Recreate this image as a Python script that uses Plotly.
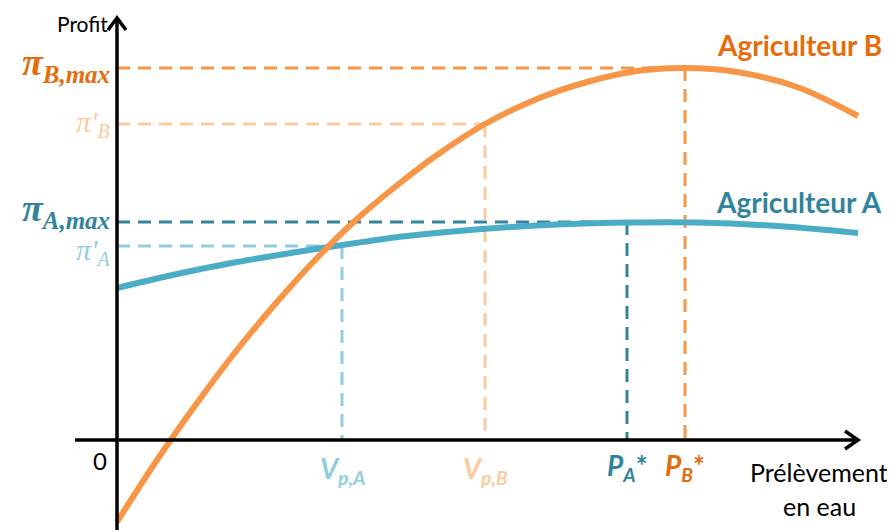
import plotly.graph_objects as go

# Data (origin at the axis crossing)
x_orange = [0, 40, 80, 120, 160, 200, 240, 283, 320, 368, 420, 470, 520, 568, 620, 680, 741]
y_orange = [-82, -20, 37, 90, 138, 182, 221, 257, 285, 316, 341, 358, 369, 372, 368, 353, 324]
x_blue = [0, 60, 120, 180, 225, 290, 365, 440, 510, 580, 660, 741]
y_blue = [152, 166, 178, 188, 195, 204, 211, 215.5, 217.5, 217.5, 214, 207]

vp_a = (225, 194)
vp_b = (368, 316)
p_a = (510, 218)
p_b = (568, 372)

ORANGE = "#F79646"
ORANGE_D = "#E46C0A"
ORANGE_L = "#FBCBA0"
BLUE = "#4BACC6"
BLUE_D = "#31849B"
BLUE_L = "#92CDDC"

fig = go.Figure()

def dashed(x0, y0, x1, y1, color):
    fig.add_shape(type="line", x0=x0, y0=y0, x1=x1, y1=y1, xref="x", yref="y",
                  line=dict(color=color, width=3, dash="13px,8px"), layer="below")

# horizontal guides
dashed(0, p_b[1], p_b[0], p_b[1], ORANGE)
dashed(0, vp_b[1], vp_b[0], vp_b[1], ORANGE_L)
dashed(0, p_a[1], p_a[0], p_a[1], BLUE_D)
dashed(0, vp_a[1], vp_a[0], vp_a[1], BLUE_L)
# vertical guides
dashed(p_b[0], p_b[1], p_b[0], 0, ORANGE)
dashed(vp_b[0], vp_b[1], vp_b[0], 0, ORANGE_L)
dashed(p_a[0], p_a[1], p_a[0], 0, BLUE_D)
dashed(vp_a[0], vp_a[1], vp_a[0], 0, BLUE_L)

fig.add_trace(go.Scatter(x=x_blue, y=y_blue, mode="lines", line=dict(color=BLUE, width=6, shape="spline"),
                         hoverinfo="skip"))
fig.add_trace(go.Scatter(x=x_orange, y=y_orange, mode="lines", line=dict(color=ORANGE, width=6, shape="spline"),
                         hoverinfo="skip"))

# axes
fig.add_shape(type="line", x0=0, y0=-92, x1=0, y1=420, line=dict(color="black", width=3.5))
fig.add_shape(type="line", x0=-42, y0=0, x1=740, y1=0, line=dict(color="black", width=3.5))
fig.add_shape(type="path", path="M -9,410 L 0,422 L 9,410", line=dict(color="black", width=3.5))
fig.add_shape(type="path", path="M 728,9 L 741,0 L 728,-9", line=dict(color="black", width=3.5))

ann = []
def label(x, y, text, color, size, xanchor="center", yanchor="middle", family="Lato"):
    ann.append(dict(x=x, y=y, xref="x", yref="y", text=text, showarrow=False,
                    font=dict(color=color, size=size, family=family),
                    xanchor=xanchor, yanchor=yanchor))

serif = "Liberation Serif"
label(-5, p_b[1] + 4, "<b><i>π</i></b><sub><span style='font-size:25px'><b><i>B,max</i></b></span></sub>",
      ORANGE_D, 38, "right", family=serif)
label(-5, vp_b[1] + 1, "<i>π'</i><sub><span style='font-size:20px'><i>B</i></span></sub>",
      ORANGE_L, 30, "right", family=serif)
label(-5, p_a[1] + 12, "<b><i>π</i></b><sub><span style='font-size:25px'><b><i>A,max</i></b></span></sub>",
      BLUE_D, 38, "right", family=serif)
label(-5, vp_a[1] - 5, "<i>π'</i><sub><span style='font-size:20px'><i>A</i></span></sub>",
      BLUE_L, 30, "right", family=serif)

sans = "Lato"
label(vp_a[0], -30, "<b><i>V</i></b><sub><span style='font-size:19px'><b><i>p,A</i></b></span></sub>", BLUE_L, 28, family=sans)
label(vp_b[0], -30, "<b><i>V</i></b><sub><span style='font-size:19px'><b><i>p,B</i></b></span></sub>", ORANGE_L, 28, family=sans)
label(p_a[0], -27, "<b><i>P</i></b><sub><span style='font-size:19px'><b><i>A</i></b></span></sub><b>*</b>", BLUE_D, 28, family=sans)
label(p_b[0], -27, "<b><i>P</i></b><sub><span style='font-size:19px'><b><i>B</i></b></span></sub><b>*</b>", ORANGE_D, 28, family=sans)

label(-17, -20, "0", "black", 24, family=sans)
label(-7, 417, "Profit", "black", 21, "right", family=sans)
label(702, -32, "Prélèvement", "black", 25, family=sans)
label(702, -66, "en eau", "black", 25, family=sans)
label(767, 395, "<b>Agriculteur B</b>", ORANGE_D, 28, "right", family=sans)
label(767, 238, "<b>Agriculteur A</b>", BLUE_D, 28, "right", family=sans)

fig.update_layout(
    width=887, height=522, autosize=False,
    margin=dict(l=0, r=0, t=0, b=0),
    plot_bgcolor="white", paper_bgcolor="white",
    showlegend=False,
    xaxis=dict(range=[-109, 778], visible=False, fixedrange=True),
    yaxis=dict(range=[-90, 432], visible=False, fixedrange=True),
    annotations=ann,
)

fig.write_html("out.html")
